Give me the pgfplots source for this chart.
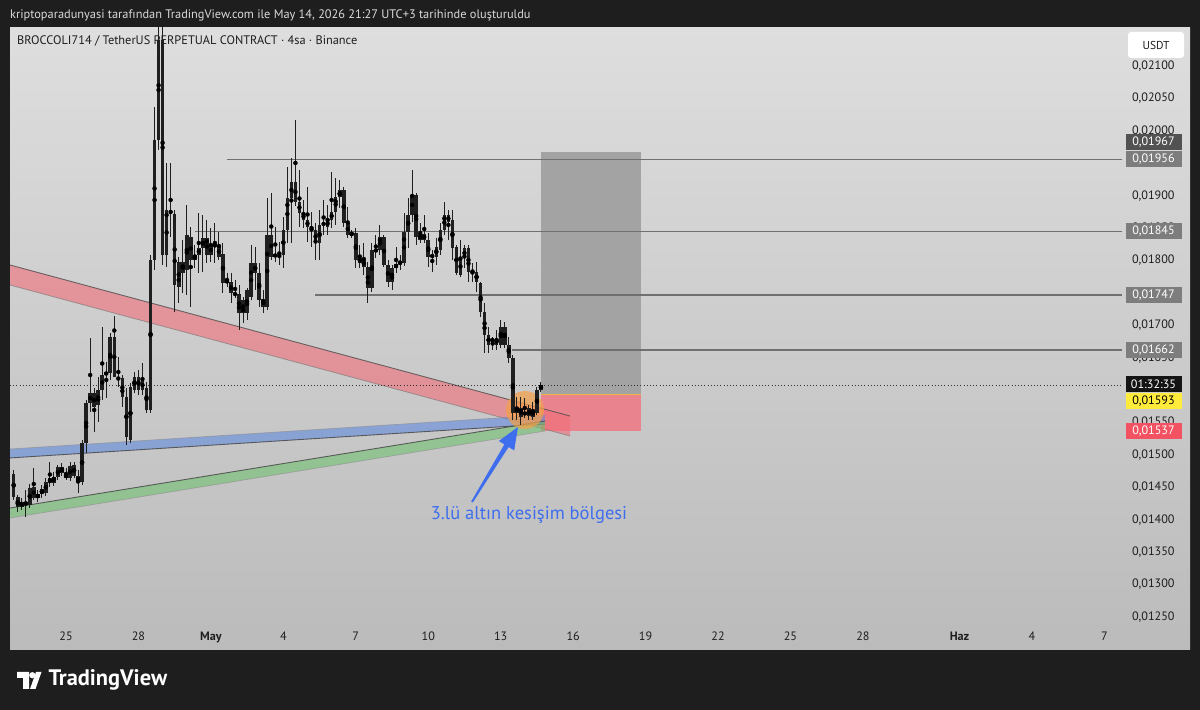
\documentclass[border=0pt]{standalone}
\usepackage{pgfplots}
\pgfplotsset{compat=1.18}
\usepackage{pgfplotstable}
\usepackage{fontspec}
\setmainfont{PT Sans}
\definecolor{bgdark}{RGB}{30,30,30}
\definecolor{paneltop}{RGB}{222,222,222}
\definecolor{panelbot}{RGB}{187,187,187}
\definecolor{hdr}{RGB}{218,218,218}
\definecolor{boxgray}{RGB}{163,163,163}
\definecolor{boxred}{RGB}{233,132,142}
\definecolor{entryc}{RGB}{242,178,70}
\definecolor{levelc}{RGB}{112,112,112}
\definecolor{bandred}{RGB}{240,110,120}
\definecolor{bandblue}{RGB}{97,138,222}
\definecolor{bandgreen}{RGB}{113,193,113}
\definecolor{circ}{RGB}{245,160,70}
\definecolor{candlegray}{RGB}{150,150,150}
\definecolor{annblue}{RGB}{62,110,238}
\definecolor{lblgray}{RGB}{125,125,125}
\definecolor{lbldark}{RGB}{82,82,82}
\definecolor{lblyellow}{RGB}{255,235,59}
\definecolor{lblred}{RGB}{242,82,98}
\definecolor{ticktext}{RGB}{30,30,30}

\pgfplotsset{
  discard if not/.style 2 args={
    x filter/.append code={
      \edef\tempa{\thisrow{#1}}%
      \edef\tempb{#2}%
      \ifx\tempa\tempb\else\def\pgfmathresult{inf}\fi
    }
  }
}

% 4-hour candles: k = bar index (k/6 = days after 25 April, 00:00), prices in USDT
\pgfplotstableread{
k o h l c t
-13 0.014706 0.014767 0.014305 0.014351 0
-12 0.014351 0.014382 0.014119 0.014197 0
-11 0.014197 0.014335 0.014150 0.014274 1
-10 0.014274 0.014459 0.014042 0.014227 0
-9 0.014227 0.014551 0.014181 0.014490 1
-8 0.014505 0.014798 0.014305 0.014335 0
-7 0.014335 0.014459 0.014274 0.014397 1
-6 0.014397 0.014536 0.014335 0.014474 1
-5 0.014413 0.014644 0.014366 0.014582 1
-4 0.014567 0.014891 0.014505 0.014644 1
-3 0.014567 0.014737 0.014521 0.014659 1
-2 0.014659 0.014845 0.014613 0.014814 1
-1 0.014814 0.014875 0.014675 0.014721 0
0 0.014706 0.014798 0.014613 0.014644 0
1 0.014644 0.014891 0.014598 0.014829 1
2 0.014845 0.014891 0.014644 0.014675 0
3 0.014675 0.014767 0.014413 0.014582 0
4 0.014582 0.015230 0.014536 0.015184 1
5 0.015184 0.015847 0.015030 0.015801 1
6 0.015801 0.016804 0.015662 0.015955 1
7 0.015955 0.016032 0.015354 0.015739 0
8 0.015770 0.016202 0.015508 0.016002 1
9 0.016002 0.016974 0.015847 0.016233 1
10 0.016233 0.016434 0.015878 0.016279 1
11 0.016264 0.016881 0.016156 0.016819 1
12 0.016819 0.017143 0.016696 0.016202 0
13 0.016202 0.016511 0.016048 0.016156 0
14 0.016187 0.016233 0.015739 0.015894 0
15 0.015894 0.016032 0.015153 0.015277 2
16 0.015230 0.016110 0.015184 0.016048 1
17 0.016002 0.016279 0.015955 0.016202 1
18 0.016202 0.016310 0.015924 0.016002 0
19 0.016002 0.016418 0.015924 0.016156 1
20 0.016032 0.016125 0.015647 0.015693 2
21 0.015693 0.018084 0.015647 0.018007 1
22 0.018007 0.020368 0.017853 0.019858 1
23 0.019858 0.021700 0.019704 0.021401 1
24 0.021401 0.021700 0.017930 0.018084 0
25 0.018084 0.019504 0.017899 0.018779 1
26 0.018779 0.019504 0.018362 0.018717 0
27 0.018717 0.018779 0.017205 0.017621 0
28 0.017591 0.018053 0.017344 0.017976 1
29 0.017976 0.018316 0.017498 0.017807 0
30 0.017853 0.018856 0.017467 0.018393 1
31 0.018362 0.018516 0.017282 0.018007 0
32 0.018007 0.018239 0.017884 0.018084 1
33 0.018084 0.018732 0.017807 0.018192 1
34 0.018192 0.018701 0.017822 0.018347 1
35 0.018347 0.018624 0.017961 0.018084 0
36 0.018084 0.018501 0.017976 0.018239 1
37 0.018239 0.018578 0.017961 0.018223 0
38 0.018223 0.018439 0.018007 0.018053 0
39 0.018100 0.018269 0.017498 0.017652 2
40 0.017699 0.017807 0.017591 0.017652 0
41 0.017668 0.017807 0.017344 0.017498 2
42 0.017498 0.017699 0.017421 0.017467 0
43 0.017483 0.017621 0.016927 0.017190 2
44 0.017390 0.017436 0.017035 0.017190 2
45 0.017190 0.017575 0.017082 0.017544 1
46 0.017436 0.018239 0.017390 0.017961 1
47 0.017961 0.018208 0.017544 0.017807 0
48 0.017807 0.017961 0.017282 0.017390 0
49 0.017405 0.017544 0.017190 0.017282 0
50 0.017282 0.018964 0.017236 0.018393 1
51 0.018393 0.019041 0.018007 0.018053 0
52 0.018100 0.018516 0.017976 0.018053 0
53 0.018053 0.018285 0.017930 0.018084 1
54 0.018084 0.018671 0.017884 0.018470 1
55 0.018470 0.019442 0.018269 0.018964 1
56 0.018964 0.019581 0.018269 0.019210 1
57 0.019210 0.020167 0.018840 0.018902 0
58 0.018902 0.019396 0.018516 0.018732 0
59 0.018732 0.018933 0.018501 0.018624 0
60 0.018624 0.019133 0.018285 0.018516 0
61 0.018516 0.018748 0.018208 0.018485 0
62 0.018470 0.018578 0.018007 0.018269 2
63 0.018269 0.018779 0.018007 0.018547 1
64 0.018578 0.018933 0.018393 0.018547 0
65 0.018516 0.018856 0.018393 0.018624 1
66 0.018624 0.019365 0.018501 0.018748 1
67 0.018748 0.019272 0.018547 0.018979 1
68 0.018979 0.019241 0.018809 0.019087 1
69 0.019087 0.019133 0.018516 0.018578 0
70 0.018578 0.018825 0.018347 0.018393 0
71 0.018424 0.018470 0.018347 0.018393 0
72 0.018424 0.018501 0.017884 0.018007 0
73 0.017961 0.018239 0.017884 0.018038 1
74 0.018007 0.018269 0.017776 0.017899 0
75 0.017899 0.017976 0.017344 0.017575 0
76 0.017575 0.018269 0.017513 0.018161 1
77 0.018177 0.018393 0.018038 0.018131 0
78 0.018161 0.018547 0.018084 0.018362 1
79 0.018362 0.018393 0.017899 0.017930 0
80 0.017930 0.018007 0.017591 0.017668 0
81 0.017668 0.017930 0.017544 0.017884 1
82 0.017884 0.018208 0.017807 0.017945 1
83 0.017945 0.018084 0.017853 0.017976 1
84 0.017961 0.018732 0.017915 0.018439 1
85 0.018439 0.018964 0.018192 0.018701 1
86 0.018701 0.019396 0.018593 0.019010 1
87 0.019010 0.019041 0.018239 0.018362 2
88 0.018316 0.018578 0.018269 0.018408 1
89 0.018408 0.018701 0.018269 0.018316 0
90 0.018316 0.018424 0.017899 0.018053 0
91 0.018053 0.018161 0.017822 0.018084 1
92 0.018053 0.018347 0.017930 0.018208 1
93 0.018161 0.018578 0.018084 0.018470 1
94 0.018470 0.018902 0.018393 0.018701 1
95 0.018701 0.018779 0.018316 0.018593 0
96 0.018624 0.018779 0.018007 0.018192 0
97 0.018208 0.018239 0.017776 0.017807 0
98 0.018038 0.018316 0.017745 0.017776 0
99 0.018038 0.018239 0.017884 0.018192 1
100 0.018192 0.018239 0.017668 0.017822 0
101 0.017807 0.017961 0.017668 0.017853 1
102 0.017822 0.017976 0.017513 0.017668 0
103 0.017652 0.017668 0.017128 0.017205 0
104 0.017205 0.017344 0.016572 0.016850 0
105 0.016850 0.016974 0.016572 0.016696 0
106 0.016804 0.016819 0.016619 0.016727 0
107 0.016804 0.016927 0.016619 0.016696 2
108 0.016696 0.017082 0.016650 0.016974 1
109 0.016974 0.017051 0.016650 0.016696 2
110 0.016696 0.016819 0.016418 0.016495 2
111 0.016495 0.016542 0.015539 0.015647 2
112 0.015647 0.015894 0.015539 0.015739 1
113 0.015724 0.015894 0.015462 0.015585 0
114 0.015662 0.015878 0.015570 0.015616 0
115 0.015600 0.015770 0.015539 0.015724 1
116 0.015693 0.015816 0.015539 0.015585 0
117 0.015647 0.016048 0.015616 0.016002 1
118 0.016002 0.016125 0.015971 0.016079 1
}\candles

\begin{document}
\begin{tikzpicture}
\useasboundingbox (0,0) rectangle (1200bp,710bp);
\fill[bgdark] (0,0) rectangle (1200bp,710bp);
\shade[top color=paneltop, bottom color=panelbot] (10bp,60bp) rectangle (1190bp,682bp);

\begin{scope}[x=1bp,y=1bp]
\node[anchor=west, inner sep=0, text=hdr, font=\fontsize{12.4}{14}\selectfont] at (10,695)
  {kriptoparadunyasi tarafından TradingView.com ile May 14, 2026 21:27 UTC+3 tarihinde oluşturuldu};
\node[anchor=west, inner sep=0, text=ticktext, font=\fontsize{12.4}{14}\selectfont] at (17,669)
  {BROCCOLI714 / TetherUS PERPETUAL CONTRACT · 4sa · Binance};
\end{scope}

\begin{axis}[
  at={(10bp,88bp)}, anchor=south west,
  width=1112bp, height=594bp, scale only axis,
  xmin=-2.319, xmax=43.727, ymin=0.0124224, ymax=0.0215862,
  axis line style={draw=none}, major tick length=0pt, tick style={draw=none},
  xtick={0,3,6,9,12,15,18,21,24,27,30,33,37,40,43},
  xticklabels={25,28,\textbf{May},4,7,10,13,16,19,22,25,28,\textbf{Haz},4,7},
  xticklabel style={font=\fontsize{12.2}{14}\selectfont, text=ticktext, anchor=north, yshift=-6bp},
  ytick={0.0125,0.013,0.0135,0.014,0.0145,0.015,0.0155,0.0165,0.017,0.018,0.0185,0.019,0.02,0.0205,0.021},
  yticklabels={{0,01250},{0,01300},{0,01350},{0,01400},{0,01450},{0,01500},{0,01550},{0,01650},{0,01700},{0,01800},{0,01850},{0,01900},{0,02000},{0,02050},{0,02100}},
  yticklabel pos=right,
  yticklabel style={font=\fontsize{12.2}{14}\selectfont, text=ticktext, anchor=west, xshift=6.5bp},
  scaled y ticks=false,
  error bars/error mark=none,
]
% target / stop boxes
\addplot[draw=none, fill=boxgray] coordinates {(19.689,0.01593) (23.830,0.01593) (23.830,0.01967) (19.689,0.01967)} -- cycle;
\addplot[draw=none, fill=boxred] coordinates {(19.689,0.01537) (23.830,0.01537) (23.830,0.01593) (19.689,0.01593)} -- cycle;
\addplot[draw=entryc, line width=1.6bp] coordinates {(19.689,0.01593) (23.830,0.01593)};
% horizontal levels
\addplot[draw=levelc, line width=1.4bp] coordinates {(6.667,0.01956) (43.727,0.01956)};
\addplot[draw=levelc, line width=1.4bp] coordinates {(5.342,0.01845) (43.727,0.01845)};
\addplot[draw=levelc, line width=1.4bp] coordinates {(10.311,0.01747) (43.727,0.01747)};
\addplot[draw=levelc, line width=1.4bp] coordinates {(18.468,0.01662) (43.727,0.01662)};
% channels
\addplot[draw=none, fill=bandred, fill opacity=0.6] coordinates {(-2.319,0.017930) (20.870,0.015600) (20.870,0.015292) (-2.319,0.017621)} -- cycle;
\addplot[draw=black!70, line width=0.9bp, opacity=0.8] coordinates {(-2.319,0.017930) (20.870,0.015600)};
\addplot[draw=black!55, line width=0.8bp, opacity=0.6] coordinates {(-2.319,0.017621) (20.870,0.015292)};
\addplot[draw=none, fill=bandblue, fill opacity=0.6] coordinates {(-2.319,0.015091) (19.834,0.015616) (19.834,0.015477) (-2.319,0.014953)} -- cycle;
\addplot[draw=black!45, line width=0.7bp, opacity=0.6] coordinates {(-2.319,0.015091) (19.834,0.015616)};
\addplot[draw=black!75, line width=0.9bp, opacity=0.8] coordinates {(-2.319,0.014953) (19.834,0.015477)};
\addplot[draw=none, fill=bandgreen, fill opacity=0.6] coordinates {(-2.319,0.014181) (19.834,0.015523) (19.834,0.015369) (-2.319,0.014027)} -- cycle;
\addplot[draw=black!75, line width=0.9bp, opacity=0.8] coordinates {(-2.319,0.014181) (19.834,0.015523)};
\addplot[draw=black!45, line width=0.7bp, opacity=0.6] coordinates {(-2.319,0.014027) (19.834,0.015369)};
% intersection zone
\fill[circ, opacity=0.7] (axis cs:19.006,0.015693) circle[radius=19bp];
% current price
\addplot[draw=black!80, line width=0.8bp, dash pattern=on 1bp off 2.2bp] coordinates {(-2.319,0.016079) (43.727,0.016079)};
% candles: wicks
\addplot[only marks, mark=none, error bars/.cd, y dir=both, y explicit,
  error bar style={line width=1bp, draw=black!88, line cap=butt}]
  table[x expr=\thisrow{k}/6, y expr=(\thisrow{h}+\thisrow{l})/2, y error expr=(\thisrow{h}-\thisrow{l})/2] {\candles};
% bodies (outline / filled)
\addplot[only marks, mark=none, error bars/.cd, y dir=both, y explicit,
  error bar style={line width=3.6bp, draw=black!88, line cap=butt}]
  table[x expr=\thisrow{k}/6, y expr=(\thisrow{o}+\thisrow{c})/2, y error expr={max(abs(\thisrow{c}-\thisrow{o})/2,0.0000077)}] {\candles};
% hollow bodies
\addplot[only marks, mark=none, discard if not={t}{0}, error bars/.cd, y dir=both, y explicit,
  error bar style={line width=1.9bp, draw=white, line cap=butt}]
  table[x expr=\thisrow{k}/6, y expr=(\thisrow{o}+\thisrow{c})/2, y error expr={max(abs(\thisrow{c}-\thisrow{o})/2-0.0000135,0)}] {\candles};
\addplot[only marks, mark=none, discard if not={t}{2}, error bars/.cd, y dir=both, y explicit,
  error bar style={line width=1.9bp, draw=candlegray, line cap=butt}]
  table[x expr=\thisrow{k}/6, y expr=(\thisrow{o}+\thisrow{c})/2, y error expr={max(abs(\thisrow{c}-\thisrow{o})/2-0.0000135,0)}] {\candles};
\end{axis}

\begin{scope}[x=1bp,y=1bp, every node/.style={inner sep=0, minimum width=56bp, minimum height=16bp, font=\fontsize{12.2}{14}\selectfont}]
\node[fill=lbldark, text=white] at (1153.5,568) {0,01967};
\node[fill=lblgray, text=white] at (1153.5,551) {0,01956};
\node[fill=lblgray, text=white] at (1153.5,478.5) {0,01845};
\node[fill=lblgray, text=white] at (1153.5,415) {0,01747};
\node[fill=lblgray, text=white] at (1153.5,360) {0,01662};
\node[fill=black!92, text=white] at (1153.5,326) {01:32:35};
\node[fill=lblyellow, text=black] at (1153.5,309) {0,01593};
\node[fill=lblred, text=white] at (1153.5,278.5) {0,01537};
\end{scope}

\begin{scope}[x=1bp,y=1bp]
% USDT box
\fill[white, rounded corners=3bp] (1128,652) rectangle (1184,678);
\node[font=\fontsize{11.5}{13}\selectfont, text=ticktext] at (1156,665) {USDT};
% annotation
\node[font=\fontsize{18.6}{20}\selectfont, text=annblue] at (529,195) {3.lü altın kesişim bölgesi};
\fill[annblue] (471.2,208.5) -- (472.8,207.5) -- (508.6,263.0) -- (514.2,259.6) -- (518,283) -- (498.8,269.0) -- (504.4,265.6) -- cycle;
% footer logo
\fill[white] (17,38) -- (29,38) -- (29,21) -- (23,21) -- (23,32) -- (17,32) -- cycle;
\fill[white] (32.3,34.8) circle[radius=3.1];
\fill[white] (36,38) -- (41.5,38) -- (35.5,21) -- (30,21) -- cycle;
\node[anchor=west, text=white, font=\fontsize{22.5}{24}\selectfont\bfseries] at (45,30) {TradingView};
\end{scope}
\end{tikzpicture}
\end{document}
